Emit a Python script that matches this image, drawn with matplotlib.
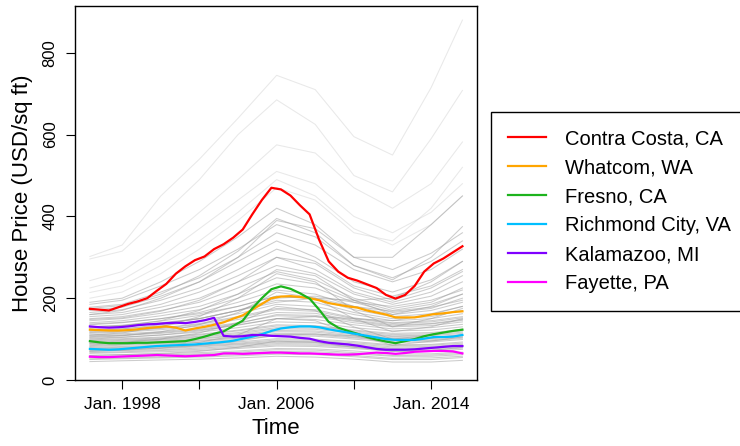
import matplotlib
matplotlib.use("Agg")
import matplotlib.pyplot as plt
import numpy as np

plt.rcParams['font.family'] = ['Liberation Sans', 'DejaVu Sans']

# time grid of the highlighted counties (roughly half-yearly, Apr 1996 .. Aug 2015)
t_hi = np.linspace(1996.33, 2015.62, 40)

contra_costa = [174, 172, 170, 178, 186, 192, 200, 218, 235, 260,
                278, 293, 302, 320, 332, 348, 368, 405, 440, 470,
                466, 451, 427, 405, 343, 290, 265, 250, 243, 234,
                225, 208, 199, 208, 230, 265, 285, 297, 312, 327]
whatcom = [123, 122, 121, 121, 122, 124, 127, 129, 131, 128,
           121, 126, 130, 135, 141, 150, 158, 172, 186, 200,
           204, 205, 203, 200, 195, 188, 184, 180, 177, 170,
           165, 160, 153, 153, 153, 157, 161, 163, 166, 168]
fresno = [95, 92, 90, 90, 90, 91, 91, 92, 93, 94,
          95, 100, 106, 113, 119, 132, 145, 175, 200, 222,
          229, 223, 212, 199, 172, 142, 128, 120, 113, 105,
          99, 94, 90, 95, 100, 107, 112, 116, 120, 123]
richmond = [76, 75, 74, 75, 77, 79, 81, 83, 84, 85,
            86, 87, 89, 91, 93, 96, 101, 106, 112, 120,
            126, 129, 131, 131, 129, 124, 120, 116, 112, 108,
            104, 100, 98, 98, 98, 101, 105, 105, 106, 110]
kalamazoo = [131, 129, 128, 129, 131, 134, 136, 137, 139, 140,
             139, 142, 146, 152, 108, 106, 107, 110, 110, 108,
             107, 106, 103, 101, 95, 91, 89, 87, 84, 80,
             76, 74, 74, 74, 75, 77, 79, 81, 83, 83]
fayette = [57, 56, 56, 57, 58, 59, 60, 61, 60, 59,
           58, 59, 60, 61, 65, 65, 64, 65, 66, 67,
           67, 66, 65, 65, 64, 63, 62, 62, 63, 65,
           67, 66, 64, 66, 69, 70, 71, 71, 70, 65]

names = ["Contra Costa, CA", "Whatcom, WA", "Fresno, CA",
         "Richmond City, VA", "Kalamazoo, MI", "Fayette, PA"]
colors = ["#ff0000", "#ffa500", "#1db31d", "#00bfff", "#7f00ff", "#ff00ff"]
highlight = [contra_costa, whatcom, fresno, richmond, kalamazoo, fayette]

# background counties, read at a coarse set of dates
t_bg = [1996.33, 1998, 2000, 2002, 2004, 2006, 2008, 2010, 2012, 2014, 2015.62]
background = [
    [302, 330, 450, 540, 640, 745, 710, 595, 550, 715, 880],
    [296, 315, 400, 490, 600, 685, 625, 500, 460, 590, 708],
    [243, 265, 330, 410, 490, 575, 555, 470, 420, 480, 582],
    [225, 245, 300, 370, 440, 510, 480, 400, 360, 410, 480],
    [214, 230, 280, 340, 410, 490, 450, 370, 330, 380, 450],
    [200, 215, 260, 320, 390, 470, 440, 360, 340, 420, 520],
    [160, 170, 200, 240, 300, 390, 370, 300, 300, 380, 450],
    [190, 200, 240, 290, 350, 420, 380, 300, 270, 310, 360],
    [185, 195, 230, 270, 320, 380, 350, 280, 250, 290, 340],
    [178, 185, 215, 250, 300, 360, 330, 270, 240, 270, 320],
    [170, 178, 205, 240, 290, 340, 300, 240, 215, 245, 290],
    [165, 172, 195, 225, 270, 320, 290, 230, 205, 230, 270],
    [160, 165, 185, 215, 255, 300, 270, 215, 190, 215, 255],
    [155, 160, 178, 200, 240, 280, 260, 210, 185, 205, 240],
    [150, 155, 170, 190, 225, 265, 245, 200, 175, 190, 225],
    [145, 150, 163, 180, 210, 250, 235, 195, 170, 185, 210],
    [140, 145, 157, 172, 200, 235, 225, 190, 165, 175, 200],
    [135, 140, 150, 165, 190, 220, 210, 180, 160, 170, 190],
    [130, 133, 140, 150, 170, 200, 205, 190, 180, 195, 220],
    [130, 134, 144, 158, 180, 205, 198, 172, 155, 162, 180],
    [126, 130, 138, 150, 170, 195, 190, 165, 150, 155, 170],
    [122, 125, 132, 144, 162, 185, 180, 160, 145, 150, 162],
    [120, 125, 135, 150, 170, 190, 200, 195, 200, 240, 290],
    [118, 121, 127, 138, 155, 175, 172, 152, 140, 145, 155],
    [114, 117, 123, 132, 148, 165, 163, 146, 135, 138, 148],
    [110, 115, 130, 155, 200, 260, 240, 170, 130, 150, 175],
    [110, 113, 118, 127, 140, 157, 155, 140, 130, 133, 142],
    [106, 109, 114, 122, 134, 150, 148, 135, 125, 128, 136],
    [102, 105, 110, 117, 128, 142, 140, 128, 120, 122, 130],
    [100, 104, 110, 120, 135, 150, 155, 150, 145, 160, 180],
    [98, 101, 105, 112, 122, 135, 133, 122, 114, 116, 123],
    [94, 97, 101, 107, 116, 128, 127, 117, 108, 110, 117],
    [90, 92, 100, 115, 140, 180, 170, 130, 100, 110, 125],
    [90, 93, 97, 102, 110, 121, 120, 111, 103, 104, 111],
    [86, 89, 92, 97, 104, 114, 113, 105, 97, 98, 105],
    [82, 85, 88, 92, 99, 108, 107, 100, 92, 93, 99],
    [80, 82, 85, 92, 110, 150, 145, 110, 85, 95, 105],
    [78, 80, 83, 87, 93, 101, 100, 94, 86, 87, 93],
    [74, 76, 79, 83, 88, 95, 94, 88, 81, 82, 87],
    [70, 73, 78, 85, 95, 110, 112, 108, 100, 102, 110],
    [70, 72, 74, 78, 83, 89, 88, 82, 76, 76, 81],
    [65, 67, 69, 72, 77, 83, 82, 77, 70, 70, 75],
    [60, 62, 65, 70, 80, 95, 92, 80, 70, 72, 80],
    [60, 62, 64, 67, 71, 77, 76, 71, 64, 64, 68],
    [55, 57, 59, 62, 65, 70, 69, 64, 58, 58, 62],
    [50, 52, 54, 56, 59, 63, 62, 57, 50, 50, 55],
    [45, 47, 49, 51, 54, 58, 56, 51, 44, 44, 48],
    [175, 182, 210, 255, 315, 395, 360, 280, 245, 300, 375],
    [148, 152, 168, 195, 240, 300, 285, 225, 195, 225, 265],
    [137, 141, 150, 162, 180, 205, 200, 180, 168, 178, 195],
    [128, 132, 145, 170, 210, 270, 255, 195, 160, 180, 210],
    [116, 119, 126, 136, 152, 172, 168, 150, 138, 142, 152],
    [108, 110, 116, 124, 138, 160, 158, 144, 132, 137, 146],
    [104, 108, 118, 135, 165, 215, 200, 150, 118, 130, 150],
    [96, 99, 103, 110, 120, 132, 131, 120, 111, 113, 120],
    [92, 95, 99, 105, 113, 125, 124, 114, 106, 108, 114],
    [88, 90, 94, 100, 108, 118, 117, 108, 100, 101, 108],
    [84, 87, 90, 95, 102, 111, 110, 103, 95, 96, 102],
    [76, 78, 81, 85, 90, 98, 97, 91, 84, 85, 90],
    [72, 74, 77, 81, 86, 92, 91, 85, 78, 79, 84],
    [67, 69, 72, 75, 80, 86, 85, 80, 73, 73, 78],
    [57, 59, 61, 64, 68, 74, 73, 67, 60, 61, 65],
    [52, 54, 56, 59, 62, 66, 65, 60, 53, 54, 58],
]

xticks = [1998, 2002, 2006, 2010, 2014]
xticklabels = ["Jan. 1998", "", "Jan. 2006", "", "Jan. 2014"]
yticks = [0, 200, 400, 600, 800]

fig = plt.figure(figsize=(7.4, 4.46), dpi=100)
ax = fig.add_axes([0.1014, 0.148, 0.5428, 0.839])

for row in background:
    # the few expensive counties are drawn fainter, like the sparse top of the band
    a = 0.22 if row[0] > 195 else 0.5
    ax.plot(t_bg, row, color="#9a9a9a", alpha=a, lw=0.75)

for vals, c, n in zip(highlight, colors, names):
    ax.plot(t_hi, vals, color=c, lw=1.6, label=n)

ax.set_xlim(1995.56, 2016.36)
ax.set_ylim(0, 915)
ax.set_xticks(xticks)
ax.set_xticklabels(xticklabels, fontsize=12.5)
ax.set_yticks(yticks)
ax.set_yticklabels([str(v) for v in yticks], fontsize=12, rotation=90, va="center")
ax.tick_params(length=6.5, width=0.8, pad=6)
for s in ax.spines.values():
    s.set_linewidth(1.0)
ax.set_xlabel("Time", fontsize=16, labelpad=4)
ax.set_ylabel("House Price (USD/sq ft)", fontsize=16, labelpad=7)

leg = fig.legend(loc="upper left", bbox_to_anchor=(491 / 740, 1 - 112 / 446),
                 borderaxespad=0, fontsize=14.5, handlelength=1.9,
                 handletextpad=0.9, borderpad=0.85, labelspacing=0.5,
                 fancybox=False, framealpha=1, edgecolor="black")
leg.get_frame().set_linewidth(1.0)
for line in leg.get_lines():
    line.set_linewidth(1.6)

fig.savefig("out.png", dpi=100)
